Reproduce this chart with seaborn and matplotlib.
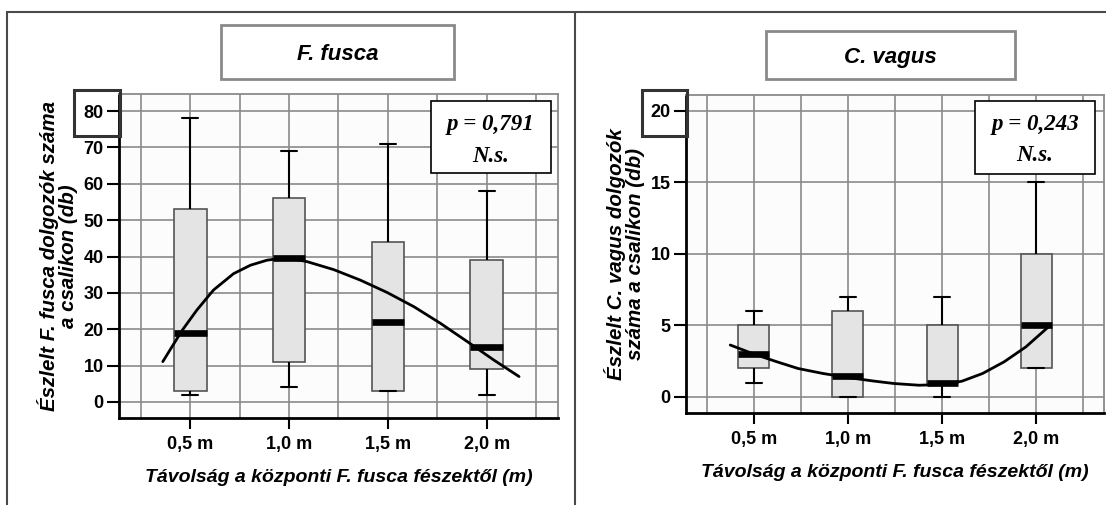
import numpy as np
import pandas as pd
import matplotlib
matplotlib.use("Agg")
import matplotlib.pyplot as plt
from matplotlib.patches import Rectangle
from matplotlib.lines import Line2D
import seaborn as sns

# ---------------- data ----------------
categories = ["0,5 m", "1,0 m", "1,5 m", "2,0 m"]

# F. fusca: five-number summaries per distance
fusca_min = [2, 4, 3, 2]
fusca_q1 = [3, 11, 3, 9]
fusca_median = [19, 39.5, 22, 15]
fusca_q3 = [53, 56, 44, 39]
fusca_max = [78, 69, 71, 58]

# C. vagus: five-number summaries per distance
vagus_min = [1, 0, 0, 2]
vagus_q1 = [2, 0, 1, 2]
vagus_median = [3, 1.5, 1, 5]
vagus_q3 = [5, 6, 5, 10]
vagus_max = [6, 7, 7, 15]

# fitted trend lines (category-position units)
fusca_curve_x = [-0.277, -0.084, 0.068, 0.236, 0.439, 0.608, 0.777, 0.912, 1.047,
                 1.182, 1.452, 1.722, 1.993, 2.263, 2.533, 2.803, 3.073, 3.326]
fusca_curve_y = [11.1, 19.6, 25.3, 30.8, 35.3, 37.6, 39.0, 39.5, 39.3,
                 38.6, 36.4, 33.5, 30.1, 26.2, 21.6, 16.6, 11.5, 7.0]
vagus_curve_x = [-0.25, 0.0, 0.245, 0.47, 0.736, 1.0, 1.264, 1.49, 1.755, 2.0,
                 2.21, 2.43, 2.66, 2.89, 3.13]
vagus_curve_y = [3.63, 3.0, 2.46, 1.99, 1.64, 1.36, 1.12, 0.94, 0.82, 0.87,
                 1.10, 1.64, 2.46, 3.5, 4.9]

fusca_yticks = [0, 10, 20, 30, 40, 50, 60, 70, 80]
vagus_yticks = [0, 5, 10, 15, 20]

titles = ["F. fusca", "C. vagus"]
ylabels = ["Észlelt F. fusca dolgozók száma\na csalikon (db)",
           "Észlelt C. vagus dolgozók\nszáma a csalikon (db)"]
xlabel = "Távolság a központi F. fusca fészektől (m)"
pvalues = ["p = 0,791", "p = 0,243"]
sig_text = "N.s."


def long_table(mins, q1s, meds, q3s, maxs):
    rows = []
    for cat, a, b, c, d, e in zip(categories, mins, q1s, meds, q3s, maxs):
        for v in (a, b, c, d, e):
            rows.append({"dist": cat, "value": v})
    return pd.DataFrame(rows)


fusca_df = long_table(fusca_min, fusca_q1, fusca_median, fusca_q3, fusca_max)
vagus_df = long_table(vagus_min, vagus_q1, vagus_median, vagus_q3, vagus_max)

# ---------------- style ----------------
sns.set_theme(style="white", rc={"text.color": "black", "axes.labelcolor": "black",
                                 "xtick.color": "black", "ytick.color": "black"})
plt.rcParams["font.family"] = ["Liberation Sans", "DejaVu Sans"]

W, H = 1106, 505
fig = plt.figure(figsize=(W / 100, H / 100), dpi=100)
fig.patch.set_facecolor("white")


def fx(px):
    return px / W


def fy(py):
    return 1 - py / H


ax1 = fig.add_axes([fx(119), fy(418), (558 - 119) / W, (418 - 94) / H])
ax2 = fig.add_axes([fx(686), fy(413), (1104 - 686) / W, (413 - 95) / H])

GRID_C = "#8a8a8a"


def draw_panel(ax, df, cx, cy, yticks, ylim, center_grid, ylabel, pval, pbox, ylab_x, xlab_y):
    ax.set_facecolor("#fcfcfc")
    sns.boxplot(data=df, x="dist", y="value", order=categories, ax=ax,
                width=0.33, whis=(0, 100), showfliers=False, saturation=1,
                color="#e4e4e4", linecolor="black", linewidth=1.5,
                boxprops=dict(edgecolor="#555555", linewidth=1.2),
                medianprops=dict(color="black", linewidth=4.8, solid_capstyle="butt"),
                whiskerprops=dict(color="black", linewidth=1.5),
                capprops=dict(color="black", linewidth=1.5))
    sns.lineplot(x=cx, y=cy, ax=ax, color="black", linewidth=2, sort=False, zorder=4)

    ax.set_xlim(-0.72, 3.72)
    ax.set_ylim(*ylim)
    ax.set_xticks(range(len(categories)), labels=categories,
                  fontsize=13, fontweight="bold")
    ax.set_xticks([-0.5, 0.5, 1.5, 2.5, 3.5], minor=True)
    ax.set_yticks(yticks, labels=[str(t) for t in yticks], fontsize=13, fontweight="bold")

    ax.set_axisbelow(True)
    ax.yaxis.grid(True, color=GRID_C, linewidth=1.2)
    ax.xaxis.grid(True, which="minor", color=GRID_C, linewidth=1.2)
    ax.xaxis.grid(center_grid, which="major", color=GRID_C, linewidth=1.2)

    ax.tick_params(axis="x", which="major", bottom=True, length=8, width=1.5, pad=5)
    ax.tick_params(axis="x", which="minor", bottom=False, length=0)
    ax.tick_params(axis="y", which="major", left=True, length=9, width=1.5, pad=2)

    for s in ("left", "bottom"):
        ax.spines[s].set_color("black")
        ax.spines[s].set_linewidth(2)
    for s in ("top", "right"):
        ax.spines[s].set_color("#8a8a8a")
        ax.spines[s].set_linewidth(1.3)

    ax.set_ylabel(ylabel, fontsize=14.8, fontweight="bold", fontstyle="italic",
                  linespacing=1.0, va="center", ha="center")
    ax.yaxis.set_label_coords(ylab_x, 0.5)
    ax.set_xlabel(xlabel, fontsize=14, fontweight="bold", fontstyle="italic", va="center")
    ax.xaxis.set_label_coords(0.5, xlab_y)

    x0, x1, y0, y1, tx, ty1, ty2 = pbox
    ax.add_patch(Rectangle((x0, y0), x1 - x0, y1 - y0, transform=ax.transAxes,
                           facecolor="white", edgecolor="black", linewidth=1.2,
                           zorder=6, clip_on=False))
    for txt, ty in ((pval, ty1), (sig_text, ty2)):
        ax.text(tx, ty, txt, transform=ax.transAxes, ha="center", va="center",
                family=["Liberation Serif", "DejaVu Serif"], fontweight="bold",
                fontstyle="italic", fontsize=16.5, zorder=7)


draw_panel(ax1, fusca_df, fusca_curve_x, fusca_curve_y, fusca_yticks, (-4.4, 84.7),
           False, ylabels[0], pvalues[0],
           (0.711, 0.984, 0.756, 0.978, 0.847, 0.907, 0.806), -0.141, -0.185)
draw_panel(ax2, vagus_df, vagus_curve_x, vagus_curve_y, vagus_yticks, (-1.12, 21.1),
           True, ylabels[1], pvalues[1],
           (0.691, 0.978, 0.752, 0.981, 0.835, 0.906, 0.811), -0.148, -0.186)

# ---------------- figure decorations ----------------
frame_c = "#4a4a4a"
fig.add_artist(Line2D([fx(7), 1], [fy(12), fy(12)], color=frame_c, linewidth=1.5))
fig.add_artist(Line2D([fx(7), fx(7)], [0, fy(12)], color=frame_c, linewidth=1.5))
fig.add_artist(Line2D([fx(575), fx(575)], [0, fy(12)], color=frame_c, linewidth=1.5))

# title boxes
for (bx0, by0, bx1, by1), title in zip([(221, 25, 454, 79), (766, 31, 1015, 79)], titles):
    fig.add_artist(Rectangle((fx(bx0), fy(by1)), (bx1 - bx0) / W, (by1 - by0) / H,
                             transform=fig.transFigure, fill=False,
                             edgecolor="#8a8a8a", linewidth=2))
    fig.text(fx((bx0 + bx1) / 2), fy((by0 + by1) / 2 + 2), title, ha="center", va="center",
             fontsize=16, fontweight="bold", fontstyle="italic")

# boxes around the top tick labels
for bx0, by0, bx1, by1 in [(74, 90, 120, 136), (642, 90, 687, 136)]:
    fig.add_artist(Rectangle((fx(bx0), fy(by1)), (bx1 - bx0) / W, (by1 - by0) / H,
                             transform=fig.transFigure, fill=False,
                             edgecolor="#333333", linewidth=2.2))

fig.savefig("out.png", dpi=100, facecolor="white")
